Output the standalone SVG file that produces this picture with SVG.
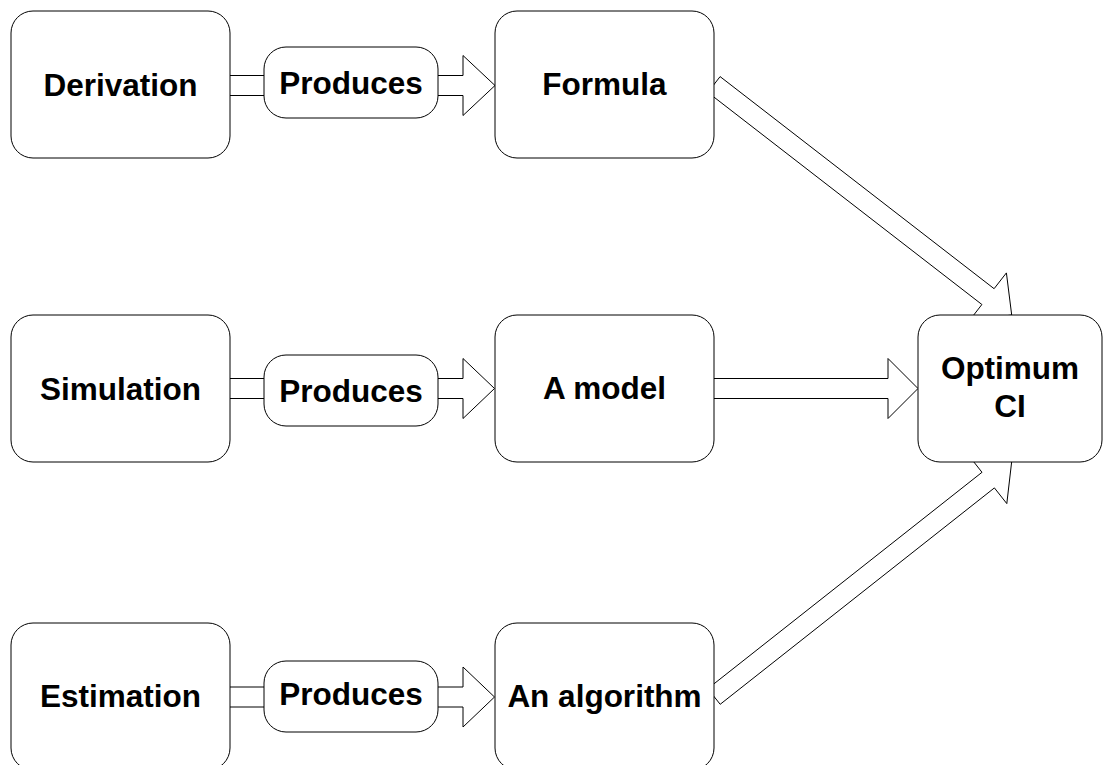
<svg xmlns="http://www.w3.org/2000/svg" width="1103" height="765" viewBox="0 0 1103 765">
<style>
.box{fill:#fff;stroke:#000;stroke-width:1}
.arr{fill:#fff;stroke:#000;stroke-width:1;stroke-linejoin:miter}
.t{font-family:"Liberation Sans",Arial,Helvetica,sans-serif;font-weight:bold;font-size:31.5px;text-anchor:middle;fill:#000}
</style>
<rect width="1103" height="765" fill="#fff"/>
<g id="connectors">
<polygon class="arr" points="225,75.5 463,75.5 463,55.5 495,85.5 463,115.5 463,95.5 225,95.5"/>
<polygon class="arr" points="225,378.5 463,378.5 463,358.5 494.5,388.5 463,418.5 463,398.5 225,398.5"/>
<polygon class="arr" points="225,687 463,687 463,667 494.5,697 463,727 463,707 225,707"/>
<polygon class="arr" points="708,378.5 888,378.5 888,358.5 918,388.5 888,418.5 888,398.5 708,398.5"/>
<polygon class="arr" points="720.1,76.6 994.1,288.7 1006.4,272.9 1011.7,315 969.6,320.3 981.9,304.5 707.9,92.4"/>
<polygon class="arr" points="707.8,688.7 982,472.3 969.6,456.6 1011.7,461.5 1006.8,503.6 994.4,487.9 720.2,704.3"/>
</g>
<g id="derivation"><rect class="box" x="11" y="11" width="219" height="147" rx="22"/><text class="t" x="120.5" y="95.5">Derivation</text></g>
<g id="produces1"><rect class="box" x="264" y="47" width="174" height="71" rx="22"/><text class="t" x="351" y="93.5">Produces</text></g>
<g id="formula"><rect class="box" x="495" y="11" width="219" height="147" rx="22"/><text class="t" x="604.5" y="94.5">Formula</text></g>
<g id="simulation"><rect class="box" x="11" y="315" width="219" height="147" rx="22"/><text class="t" x="120.5" y="399.5">Simulation</text></g>
<g id="produces2"><rect class="box" x="264" y="355" width="174" height="71" rx="22"/><text class="t" x="351" y="401.5">Produces</text></g>
<g id="amodel"><rect class="box" x="495" y="315" width="219" height="147" rx="22"/><text class="t" x="604.5" y="398.5">A model</text></g>
<g id="estimation"><rect class="box" x="11" y="623" width="219" height="147" rx="22"/><text class="t" x="120.5" y="706.5">Estimation</text></g>
<g id="produces3"><rect class="box" x="264" y="661" width="174" height="71" rx="22"/><text class="t" x="351" y="704.5">Produces</text></g>
<g id="algorithm"><rect class="box" x="495" y="623" width="219" height="147" rx="22"/><text class="t" x="604.5" y="706.5">An algorithm</text></g>
<g id="optimum"><rect class="box" x="918" y="315" width="184" height="147" rx="22"/><text class="t" x="1010" y="378.5">Optimum</text><text class="t" x="1010" y="416.5">CI</text></g>
</svg>
